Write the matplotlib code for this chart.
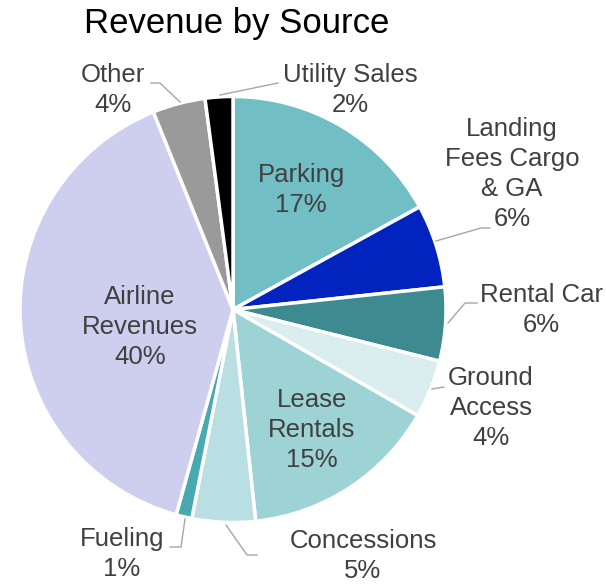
"""Revenue by Source pie chart."""

import matplotlib.pyplot as plt

# data
sources = [
    "Parking", "Landing\nFees Cargo\n& GA", "Rental Car", "Ground\nAccess",
    "Lease\nRentals", "Concessions", "Fueling", "Airline\nRevenues", "Other",
    "Utility Sales",
]
shares = [17.0, 6.3, 5.6, 4.4, 15.0, 4.8, 1.2, 39.6, 4.0, 2.1]
colors = [
    "#72BEC5", "#0323BE", "#3D8A90", "#DAEDEF", "#9ED3D6",
    "#BADFE2", "#46AAB0", "#CECEEE", "#9A9A9A", "#000000",
]

# layout (pixel positions in the 606x584 canvas)
W, H = 606, 584
CX, CY, R = 233, 309.5, 213
label_px = [
    (301, 190), (512, 174), (541, 310), (491, 408), (312, 430),
    (363, 556), (122, 554), (140, 327), (113, 90), (350, 90),
]
leader_px = {
    1: [(436, 241), (481, 228), (490, 228)],
    2: [(448, 323), (465, 303), (477, 303)],
    3: [(432, 389), (444, 387)],
    5: [(226, 525), (247, 555), (257, 555)],
    6: [(185, 519), (181, 547), (170, 547)],
    8: [(180, 102), (160, 83), (151, 83)],
    9: [(220, 95), (278, 83)],
}


def to_data(px, py):
    return (px - CX) / R, (CY - py) / R


plt.rcParams["font.family"] = ["Liberation Sans", "DejaVu Sans"]

fig = plt.figure(figsize=(W / 100, H / 100), dpi=100)
ax = fig.add_axes([0, 0, 1, 1])
ax.pie(
    shares,
    colors=colors,
    startangle=90,
    counterclock=False,
    radius=1,
    wedgeprops={"edgecolor": "white", "linewidth": 2.5},
)
ax.set_xlim((0 - CX) / R, (W - CX) / R)
ax.set_ylim((CY - H) / R, CY / R)
ax.set_aspect("equal")
ax.axis("off")

total = sum(shares)
for i, (name, share) in enumerate(zip(sources, shares)):
    x, y = to_data(*label_px[i])
    ax.text(x, y, f"{name}\n{share / total * 100:.0f}%", ha="center", va="center",
            fontsize=18.5, color="#404040", linespacing=1.3)

for pts in leader_px.values():
    xs, ys = zip(*[to_data(px, py) for px, py in pts])
    ax.plot(xs, ys, color="#A6A6A6", linewidth=1.0)

fig.text(237 / W, 1 - 23 / H, "Revenue by Source", ha="center", va="center",
         fontsize=25, color="#000000")

fig.savefig("out.png", dpi=100)
